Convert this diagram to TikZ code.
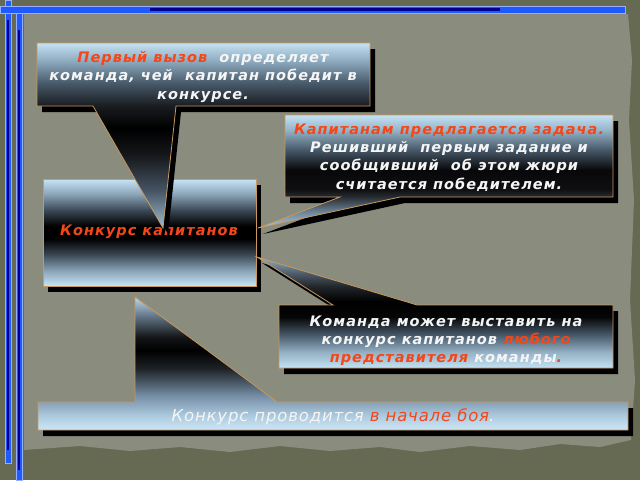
\documentclass[tikz,border=0pt]{standalone}
\usepackage{fontspec}
\setmainfont{DejaVu Sans}
\newfontfamily\cfont[LetterSpace=7]{DejaVu Sans}
\newfontfamily\lfont[LetterSpace=5]{DejaVu Sans}
\definecolor{paper}{RGB}{138,140,126}
\definecolor{olive}{RGB}{102,106,82}
\definecolor{orr}{RGB}{245,70,25}
\definecolor{tan}{RGB}{200,152,92}
\definecolor{bbar}{RGB}{30,90,255}
\definecolor{nbar}{RGB}{0,0,140}
\definecolor{lbar}{RGB}{150,175,255}
\definecolor{txtw}{RGB}{245,245,245}
% shape 1: y 43 -> 228
\pgfdeclareverticalshading{shA}{100bp}{%
color(0bp)=(rgb,255:red,160;green,190;blue,210);
color(25bp)=(rgb,255:red,160;green,190;blue,210);
color(35bp)=(rgb,255:red,70;green,85;blue,100);
color(45bp)=(rgb,255:red,20;green,22;blue,25);
color(52bp)=(rgb,255:red,0;green,0;blue,0);
color(58bp)=(rgb,255:red,25;green,28;blue,32);
color(64bp)=(rgb,255:red,70;green,88;blue,104);
color(70bp)=(rgb,255:red,140;green,168;blue,188);
color(75bp)=(rgb,255:red,196;green,226;blue,244);
color(100bp)=(rgb,255:red,196;green,226;blue,244)}
% shape 2: y 115 -> 228
\pgfdeclareverticalshading{shB}{100bp}{%
color(0bp)=(rgb,255:red,170;green,200;blue,220);
color(25bp)=(rgb,255:red,170;green,200;blue,220);
color(32bp)=(rgb,255:red,110;green,135;blue,155);
color(38.7bp)=(rgb,255:red,40;green,45;blue,50);
color(42bp)=(rgb,255:red,15;green,15;blue,18);
color(50.7bp)=(rgb,255:red,8;green,8;blue,10);
color(59.5bp)=(rgb,255:red,70;green,88;blue,104);
color(68.4bp)=(rgb,255:red,150;green,180;blue,200);
color(75bp)=(rgb,255:red,196;green,226;blue,244);
color(100bp)=(rgb,255:red,196;green,226;blue,244)}
% shape 3: y 179 -> 286
\pgfdeclareverticalshading{shC}{100bp}{%
color(0bp)=(rgb,255:red,200;green,228;blue,245);
color(25bp)=(rgb,255:red,200;green,228;blue,245);
color(32bp)=(rgb,255:red,140;green,165;blue,185);
color(40bp)=(rgb,255:red,55;green,68;blue,80);
color(47bp)=(rgb,255:red,0;green,0;blue,0);
color(53bp)=(rgb,255:red,0;green,0;blue,0);
color(60bp)=(rgb,255:red,55;green,68;blue,80);
color(68bp)=(rgb,255:red,140;green,165;blue,185);
color(75bp)=(rgb,255:red,200;green,228;blue,245);
color(100bp)=(rgb,255:red,200;green,228;blue,245)}
% shape 4: y 257 -> 368
\pgfdeclareverticalshading{shD}{100bp}{%
color(0bp)=(rgb,255:red,196;green,226;blue,244);
color(25bp)=(rgb,255:red,196;green,226;blue,244);
color(32bp)=(rgb,255:red,150;green,178;blue,198);
color(40bp)=(rgb,255:red,70;green,88;blue,104);
color(48bp)=(rgb,255:red,5;green,5;blue,5);
color(55bp)=(rgb,255:red,0;green,0;blue,0);
color(62bp)=(rgb,255:red,35;green,40;blue,45);
color(68bp)=(rgb,255:red,80;green,95;blue,110);
color(75bp)=(rgb,255:red,150;green,175;blue,195);
color(100bp)=(rgb,255:red,150;green,175;blue,195)}
% shape 5: y 297 -> 430
\pgfdeclareverticalshading{shE}{100bp}{%
color(0bp)=(rgb,255:red,205;green,230;blue,245);
color(25bp)=(rgb,255:red,205;green,230;blue,245);
color(30bp)=(rgb,255:red,175;green,205;blue,225);
color(37.6bp)=(rgb,255:red,120;green,145;blue,168);
color(48bp)=(rgb,255:red,30;green,35;blue,40);
color(55bp)=(rgb,255:red,0;green,0;blue,0);
color(60bp)=(rgb,255:red,20;green,22;blue,25);
color(68bp)=(rgb,255:red,100;green,120;blue,138);
color(75bp)=(rgb,255:red,190;green,215;blue,235);
color(100bp)=(rgb,255:red,190;green,215;blue,235)}
\tikzset{
  callout/.style={shade, draw=tan, line width=0.8pt, line join=miter},
  shadowfill/.style={fill=black, draw=none, shift={(5,6)}},
  btxt/.style={font=\cfont\fontsize{14.5}{18.2}\selectfont\bfseries\itshape, text=txtw, align=center, inner sep=0pt},
  ltxt/.style={font=\lfont\fontsize{16.5}{18}\selectfont\itshape, text=txtw, align=center, inner sep=0pt},
  barout/.style={fill=bbar, draw=lbar, line width=0.6pt},
  barin/.style={fill=nbar, draw=none},
}
\begin{document}
\begin{tikzpicture}[x=1pt,y=-1pt]
\useasboundingbox (0,0) rectangle (640,480);
% background
\fill[olive] (0,0) rectangle (640,480);
\fill[paper] (24,14) -- (628,14) -- (632,60) -- (629,120) -- (634,200) -- (630,300) -- (635,380) -- (631,440)
  -- (600,447) -- (560,444) -- (520,450) -- (470,446) -- (420,452) -- (380,447) -- (330,451) -- (280,446)
  -- (230,452) -- (180,447) -- (130,451) -- (80,446) -- (24,450) -- cycle;
% blue bars
\path[barout] (5,0) rectangle (11,463);
\path[barin] (6.8,20) rectangle (9.2,450);
\path[barout] (16,11) rectangle (22,480);
\path[barin] (17.8,30) rectangle (20.2,470);
\path[barout] (0,6) rectangle (625,13);
\path[barin] (150,8.2) rectangle (500,10.8);
% shape 3
\fill[shadowfill] (43,179) rectangle (256,286);
\path[callout, shading=shC] (43,179) rectangle (256,286);
\node[btxt, text=orr] (t3) at (149,232) {Конкурс капитанов};
% shape 1
\fill[shadowfill] (37,43) -- (370,43) -- (370,106) -- (176,106) -- (163,228) -- (93,106) -- (37,106) -- cycle;
\path[callout, shading=shA] (37,43) -- (370,43) -- (370,106) -- (176,106) -- (163,228) -- (93,106) -- (37,106) -- cycle;
\node[btxt] (t1) at (203,77) {\textcolor{orr}{Первый вызов}\ \ определяет\\команда, чей\ \ капитан победит в\\конкурсе.};
% shape 2
\fill[shadowfill] (285,115) -- (613,115) -- (613,197) -- (400,197) -- (258,228) -- (340,197) -- (285,197) -- cycle;
\path[callout, shading=shB] (285,115) -- (613,115) -- (613,197) -- (400,197) -- (258,228) -- (340,197) -- (285,197) -- cycle;
\node[btxt] (t2) at (449,157.5) {\textcolor{orr}{Капитанам предлагается задача.}\\Решивший\ \ первым задание и\\сообщивший\ \ об этом жюри\\считается победителем.};
% shape 4
\fill[shadowfill] (257,257) -- (333,305) -- (279,305) -- (279,368) -- (613,368) -- (613,305) -- (417,305) -- cycle;
\path[callout, shading=shD] (257,257) -- (333,305) -- (279,305) -- (279,368) -- (613,368) -- (613,305) -- (417,305) -- cycle;
\node[btxt] (t4) at (446,341) {Команда может выставить на\\конкурс капитанов \textcolor{orr}{любого}\\\textcolor{orr}{представителя} команды\textcolor{orr}{.}};
% shape 5
\fill[shadowfill] (38,402) -- (135,402) -- (135,297) -- (277,402) -- (628,402) -- (628,430) -- (38,430) -- cycle;
\path[callout, shading=shE] (38,402) -- (135,402) -- (135,297) -- (277,402) -- (628,402) -- (628,430) -- (38,430) -- cycle;
\node[ltxt] (t5) at (333,417) {Конкурс проводится \textcolor{orr}{в начале боя}.};
\end{tikzpicture}
\end{document}
